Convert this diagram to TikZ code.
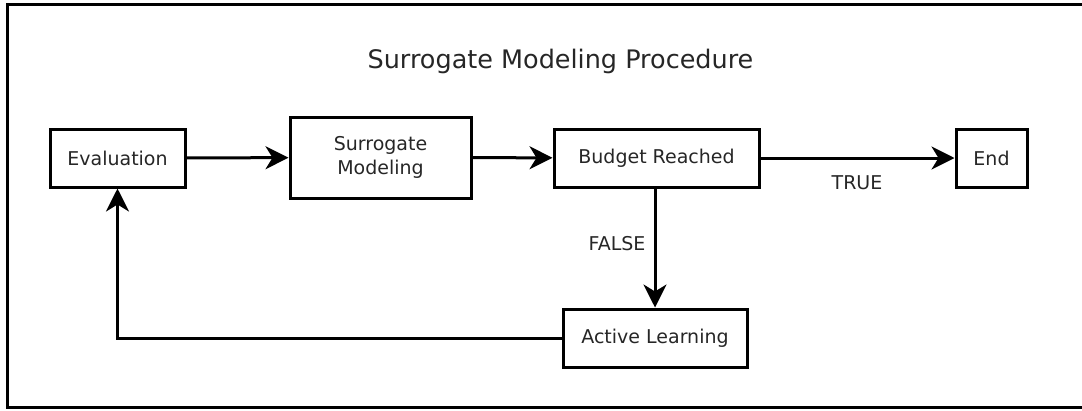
\documentclass[tikz,border=0pt]{standalone}
\usepackage{fontspec}
\setmainfont{DejaVu Sans}
\usetikzlibrary{arrows.meta}
\begin{document}
\begin{tikzpicture}[x=1pt,y=-1pt,
  box/.style={draw,line width=3pt,minimum height=58pt,inner sep=0pt,font=\fontsize{19}{24}\selectfont,align=center,text=black!85},
  conn/.style={line width=3pt,-{Stealth[length=23pt,width=23pt,inset=7pt]}},
  lab/.style={font=\fontsize{19}{24}\selectfont,text=black!85}]
\useasboundingbox (0,0) rectangle (1082,410);
\draw[line width=3pt] (7.5,4.5) rectangle (1090,407.5);
\node[font=\fontsize{25.5}{30}\selectfont,text=black!85] (title) at (560.5,61) {Surrogate Modeling Procedure};
\node[box,minimum width=135pt] (eval) at (117.5,158) {Evaluation};
\node[box,minimum width=181pt,minimum height=81pt] (sur) at (380.5,157.5) {Surrogate\\Modeling};
\node[box,minimum width=205pt] (bud) at (656.5,158) {Budget Reached};
\node[box,minimum width=71pt] (end) at (991.5,158) {End};
\node[box,minimum width=184pt] (act) at (655,338) {Active Learning};
\draw[conn] (eval) -- (sur);
\draw[conn] (sur) -- (bud);
\draw[conn] (bud) -- (end);
\draw[conn] (bud.south -| act.north) -- (act.north);
\draw[conn] (act.west) -| (eval.south);
\node[lab] (true) at (857,183) {TRUE};
\node[lab] (false) at (617,244) {FALSE};
\end{tikzpicture}
\end{document}
